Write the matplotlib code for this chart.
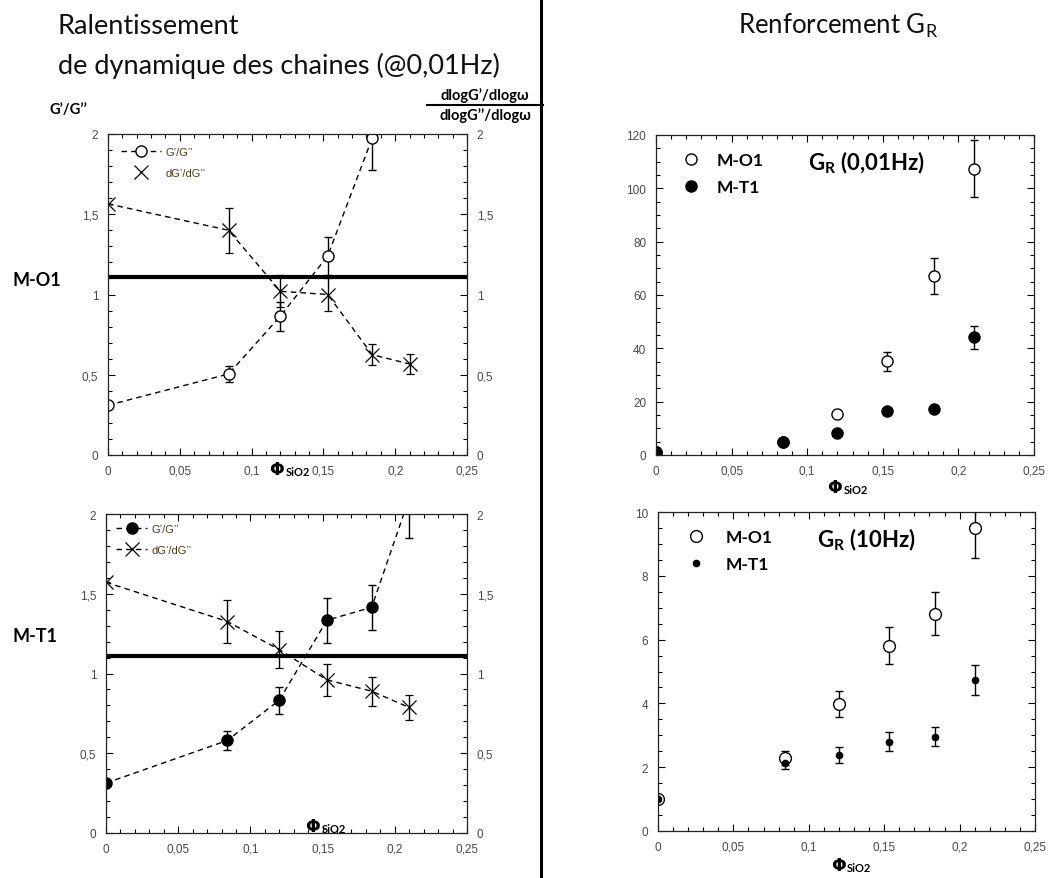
import matplotlib
matplotlib.use("Agg")
import matplotlib.pyplot as plt
from matplotlib.lines import Line2D
from matplotlib.ticker import MultipleLocator, FuncFormatter
import numpy as np

# ---------------- data ----------------
phi = [0.0, 0.084, 0.12, 0.153, 0.184, 0.21]

# M-O1 (top-left)
mo1_ratio_x = [0.0, 0.084, 0.12, 0.153, 0.184]
mo1_ratio = [0.31, 0.505, 0.865, 1.24, 1.975]
mo1_ratio_err = [0.0, 0.05, 0.09, 0.12, 0.2]
mo1_slope = [1.565, 1.40, 1.02, 1.0, 0.625, 0.567]
mo1_slope_err = [0.0, 0.14, 0.10, 0.10, 0.065, 0.06]

# M-T1 (bottom-left)
mt1_ratio = [0.313, 0.58, 0.833, 1.334, 1.415, 2.10]
mt1_ratio_err = [0.0, 0.06, 0.085, 0.14, 0.14, 0.25]
mt1_slope = [1.572, 1.326, 1.15, 0.96, 0.889, 0.787]
mt1_slope_err = [0.0, 0.135, 0.115, 0.10, 0.09, 0.08]

threshold = 1.11

# G_R at 0.01 Hz
gr001_mo1 = [1.0, 4.7, 15.2, 35.1, 67.2, 107.4]
gr001_mo1_err = [0.0, 0.0, 1.5, 3.5, 6.7, 10.8]
gr001_mt1 = [1.0, 4.7, 8.1, 16.6, 17.2, 44.1]
gr001_mt1_err = [0.0, 0.0, 0.0, 0.0, 0.0, 4.3]

# G_R at 10 Hz
gr10_mo1 = [0.99, 2.30, 3.98, 5.80, 6.81, 9.51]
gr10_mo1_err = [0.0, 0.22, 0.41, 0.58, 0.67, 0.95]
gr10_mt1 = [1.0, 2.14, 2.39, 2.80, 2.96, 4.73]
gr10_mt1_err = [0.0, 0.2, 0.25, 0.3, 0.31, 0.47]

# ---------------- figure ----------------
W, H = 1048, 879
fig = plt.figure(figsize=(W / 100, H / 100), dpi=100)

def px_axes(left, right, top, bottom):
    return fig.add_axes([left / W, 1 - bottom / H, (right - left) / W, (bottom - top) / H])

TICKC = "#4a4a4a"
comma = FuncFormatter(lambda v, p: ("%g" % round(v, 4)).replace(".", ","))

def style(ax, ymax, ymaj, ymin, labelright=False):
    ax.set_xlim(0, 0.25)
    ax.set_ylim(0, ymax)
    ax.xaxis.set_major_locator(MultipleLocator(0.05))
    ax.xaxis.set_minor_locator(MultipleLocator(0.01))
    ax.yaxis.set_major_locator(MultipleLocator(ymaj))
    ax.yaxis.set_minor_locator(MultipleLocator(ymin))
    ax.xaxis.set_major_formatter(comma)
    ax.yaxis.set_major_formatter(comma)
    ax.tick_params(which="both", direction="in", top=True, right=True,
                   labelright=labelright, colors="black", labelcolor=TICKC,
                   labelsize=8.5, pad=7)
    ax.tick_params(which="major", length=5, width=0.8)
    ax.tick_params(which="minor", length=3, width=0.8)
    for lab in ax.get_xticklabels() + ax.get_yticklabels():
        lab.set_fontfamily("Liberation Sans")
    for s in ax.spines.values():
        s.set_linewidth(0.9)
        s.set_color("#222222")

dash = (0, (4, 3))
ebkw = dict(elinewidth=1, capsize=3, capthick=1, ecolor="black")
legprop = {"family": "Liberation Sans", "size": 8}

# ---- top-left ----
ax1 = px_axes(108, 467, 135, 456)
style(ax1, 2, 0.5, 0.1, labelright=True)
ax1.axhline(threshold, color="black", lw=3)
ax1.errorbar(mo1_ratio_x, mo1_ratio, yerr=mo1_ratio_err, fmt="o", mfc="white",
             mec="black", ms=8, linestyle=dash, color="black", lw=1, **ebkw)
ax1.errorbar(phi, mo1_slope, yerr=mo1_slope_err, fmt="x", color="black", ms=10,
             mew=0.9, linestyle=dash, lw=1, **ebkw)
leg_h1 = [Line2D([], [], color="black", ls=dash, lw=1, marker="o", mfc="white",
                 mec="black", ms=8),
          Line2D([], [], color="black", ls="none", marker="x", ms=10, mew=0.9)]
ax1.legend(leg_h1, ["G’/G’’", "dG’/dG’’"], loc="upper left", frameon=False,
           handlelength=3.6, handletextpad=0.4, labelcolor="#5a3a1a",
           borderaxespad=0.9, borderpad=0.3, labelspacing=0.95, prop=legprop)

# ---- bottom-left ----
ax2 = px_axes(106, 467, 515, 834)
style(ax2, 2, 0.5, 0.1, labelright=True)
ax2.axhline(threshold, color="black", lw=3)
ax2.errorbar(phi, mt1_ratio, yerr=mt1_ratio_err, fmt="o", mfc="black", mec="black",
             ms=8, linestyle=dash, color="black", lw=1, **ebkw)
ax2.errorbar(phi, mt1_slope, yerr=mt1_slope_err, fmt="x", color="black", ms=10,
             mew=0.9, linestyle=dash, lw=1, **ebkw)
leg_h2 = [Line2D([], [], color="black", ls=dash, lw=1, marker="o", mfc="black",
                 mec="black", ms=8),
          Line2D([], [], color="black", ls=dash, lw=1, marker="x", ms=10, mew=0.9)]
ax2.legend(leg_h2, ["G’/G’’", "dG’/dG’’"], loc="upper left", frameon=False,
           handlelength=2.8, handletextpad=0.4, labelcolor="#5a3a1a",
           borderaxespad=0.6, borderpad=0.3, labelspacing=1.0, prop=legprop)

# ---- top-right ----
ax3 = px_axes(656, 1034, 136, 456)
style(ax3, 120, 20, 5)
ax3.errorbar(phi, gr001_mo1, yerr=gr001_mo1_err, fmt="o", mfc="white", mec="black",
             ms=8, ls="none", **ebkw)
ax3.errorbar(phi, gr001_mt1, yerr=gr001_mt1_err, fmt="o", mfc="black", mec="black",
             ms=8, ls="none", **ebkw)
leg_h3 = [Line2D([], [], ls="none", marker="o", mfc="white", mec="black", ms=8),
          Line2D([], [], ls="none", marker="o", mfc="black", mec="black", ms=8)]
ax3.legend(leg_h3, ["M-O1", "M-T1"], loc="upper left", frameon=False,
           handlelength=2.0, handletextpad=0.5, borderaxespad=0.6, labelspacing=0.6,
           prop={"family": ["Lato", "DejaVu Sans"], "weight": "bold", "size": 12.5})
ax3.text(0.558, 0.916, r"G$_\mathregular{R}$ (0,01Hz)", transform=ax3.transAxes,
         ha="center", va="center", fontsize=16, fontweight="bold",
         family=["Lato", "DejaVu Sans"])

# ---- bottom-right ----
ax4 = px_axes(658, 1035, 513, 832)
style(ax4, 10, 2, 0.5)
ax4.errorbar(phi, gr10_mo1, yerr=gr10_mo1_err, fmt="o", mfc="white", mec="black",
             ms=8.5, ls="none", **ebkw)
ax4.errorbar(phi, gr10_mt1, yerr=gr10_mt1_err, fmt="o", mfc="black", mec="black",
             ms=4.5, ls="none", **ebkw)
leg_h4 = [Line2D([], [], ls="none", marker="o", mfc="white", mec="black", ms=8.5),
          Line2D([], [], ls="none", marker="o", mfc="black", mec="black", ms=4.5)]
ax4.legend(leg_h4, ["M-O1", "M-T1"], loc="upper left", frameon=False,
           handlelength=2.4, handletextpad=0.5, borderaxespad=0.6, labelspacing=0.6,
           prop={"family": ["Lato", "DejaVu Sans"], "weight": "bold", "size": 12.5})
ax4.text(0.554, 0.915, r"G$_\mathregular{R}$ (10Hz)", transform=ax4.transAxes,
         ha="center", va="center", fontsize=16, fontweight="bold",
         family=["Lato", "DejaVu Sans"])

# ---- x axis labels (Φ SiO2) ----
def phi_label(x, y):
    fig.text(x / W, 1 - y / H, "Φ", fontsize=12.5, fontweight="bold",
             family=["DejaVu Sans"], ha="center", va="center")
    fig.text((x + 9) / W, 1 - (y + 3) / H, "SiO2", fontsize=8, fontweight="bold",
             family=["Lato", "DejaVu Sans"], ha="left", va="center")

phi_label(277, 470)
phi_label(313, 827)
phi_label(835, 488)
phi_label(838, 866)

# ---- titles and annotations ----
tfam = ["Lato", "DejaVu Sans"]
fig.text(58 / W, 1 - 26 / H, "Ralentissement", fontsize=19.5, family=tfam,
         ha="left", va="center", color="#111111")
fig.text(58 / W, 1 - 66 / H, "de dynamique des chaines (@0,01Hz)", fontsize=19.5,
         family=tfam, ha="left", va="center", color="#111111")
fig.text(838 / W, 1 - 26 / H, r"Renforcement G$_\mathregular{R}$", fontsize=18.5,
         family=tfam, ha="center", va="center", color="#111111")

fig.text(68 / W, 1 - 110 / H, "G’/G’’", fontsize=10.5, fontweight="bold", family=tfam,
         ha="center", va="center")
fig.text(485 / W, 1 - 96 / H, "dlogG’/dlogω", fontsize=10.5, fontweight="bold",
         family=tfam, ha="center", va="center")
fig.text(485 / W, 1 - 116 / H, "dlogG’’/dlogω", fontsize=10.5, fontweight="bold",
         family=tfam, ha="center", va="center")
fig.add_artist(Line2D([427 / W, 543 / W], [1 - 106 / H, 1 - 106 / H],
                      color="black", lw=1.5))

fig.text(37 / W, 1 - 281 / H, "M-O1", fontsize=13, fontweight="bold", family=tfam,
         ha="center", va="center")
fig.text(35 / W, 1 - 637 / H, "M-T1", fontsize=13, fontweight="bold", family=tfam,
         ha="center", va="center")

# vertical separator
fig.add_artist(Line2D([541 / W, 541 / W], [0, 1], color="black", lw=2.2))

fig.savefig("out.png", dpi=100)
